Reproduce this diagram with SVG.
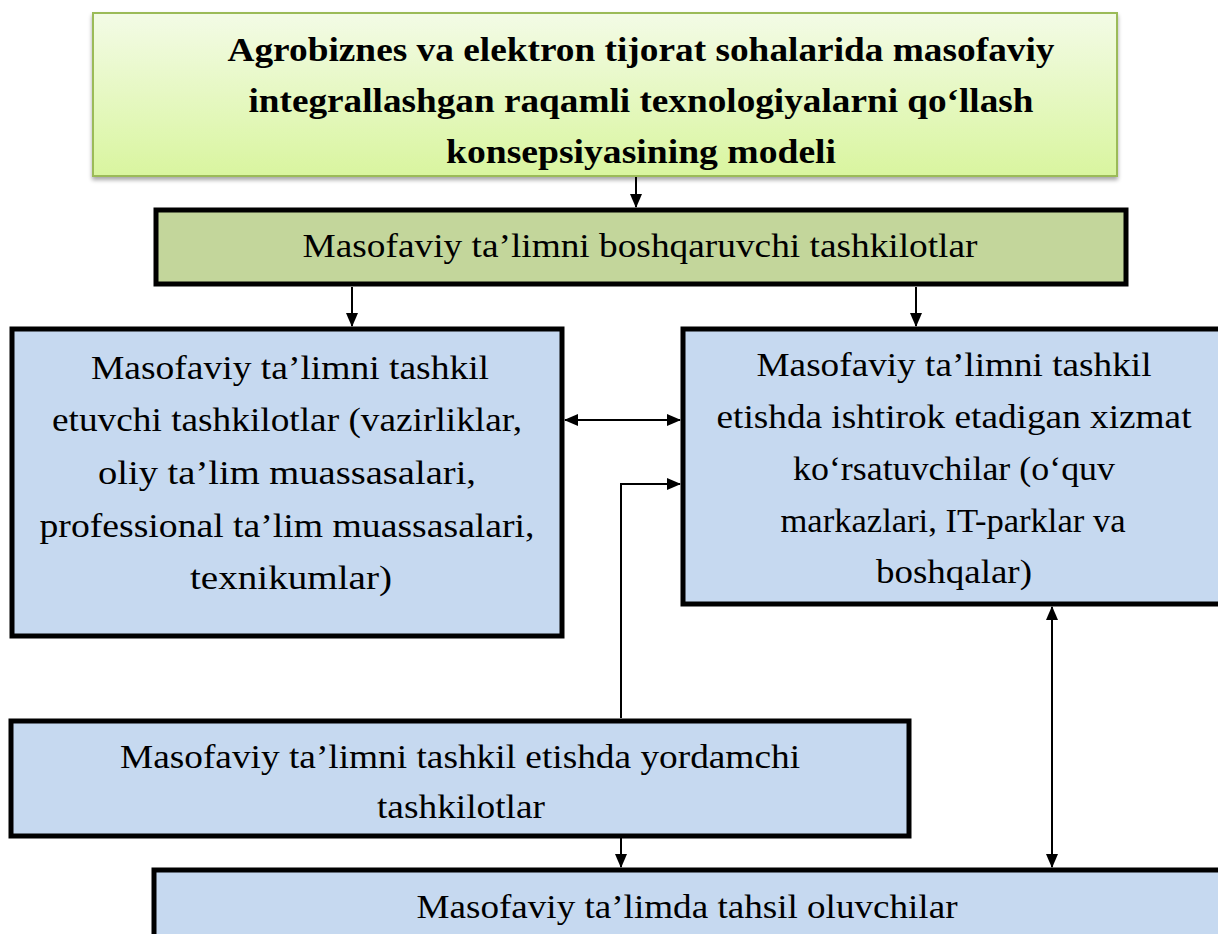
<svg xmlns="http://www.w3.org/2000/svg" width="1218" height="934" viewBox="0 0 1218 934">
<defs>
<linearGradient id="gTop" x1="0" y1="0" x2="0" y2="1">
<stop offset="0" stop-color="#f3fbe6"/>
<stop offset="1" stop-color="#d9f59f"/>
</linearGradient>
<filter id="sh" x="-5%" y="-10%" width="110%" height="130%">
<feGaussianBlur in="SourceAlpha" stdDeviation="2"/>
<feOffset dx="0" dy="3"/>
<feComponentTransfer><feFuncA type="linear" slope="0.35"/></feComponentTransfer>
<feMerge><feMergeNode/><feMergeNode in="SourceGraphic"/></feMerge>
</filter>
<marker id="ah" markerWidth="14" markerHeight="12" refX="13" refY="6" orient="auto-start-reverse" markerUnits="userSpaceOnUse">
<path d="M0,0 L14,6 L0,12 Z" fill="#000"/>
</marker>
</defs>
<style>
text{font-family:"Liberation Serif","Times New Roman",serif;fill:#000;text-anchor:middle}
.t{font-size:34px;font-weight:bold}
.n{font-size:34px}
.box{stroke:#000;stroke-width:5}
.blue{fill:#c6d9f0}
.con{stroke:#000;stroke-width:2;fill:none}
</style>
<g id="top">
<rect x="93" y="13" width="1024" height="163" fill="url(#gTop)" stroke="#9bbb59" stroke-width="2" filter="url(#sh)"/>
<text class="t" x="641" y="61" textLength="827" lengthAdjust="spacingAndGlyphs">Agrobiznes va elektron tijorat sohalarida masofaviy</text>
<text class="t" x="641" y="112" textLength="785" lengthAdjust="spacingAndGlyphs">integrallashgan raqamli texnologiyalarni qo‘llash</text>
<text class="t" x="641" y="163" textLength="390" lengthAdjust="spacingAndGlyphs">konsepsiyasining modeli</text>
</g>
<g id="boshqaruv">
<rect class="box" x="156" y="210" width="970" height="74" fill="#c3d69b"/>
<text class="n" x="640" y="257" textLength="675" lengthAdjust="spacingAndGlyphs">Masofaviy ta’limni boshqaruvchi tashkilotlar</text>
</g>
<g id="tashkil">
<rect class="box blue" x="12" y="329" width="550" height="307"/>
<text class="n" x="290" y="379" textLength="398" lengthAdjust="spacingAndGlyphs">Masofaviy ta’limni tashkil</text>
<text class="n" x="287" y="431" textLength="470" lengthAdjust="spacingAndGlyphs">etuvchi tashkilotlar (vazirliklar,</text>
<text class="n" x="287" y="484" textLength="378" lengthAdjust="spacingAndGlyphs">oliy ta’lim muassasalari,</text>
<text class="n" x="287" y="537" textLength="495" lengthAdjust="spacingAndGlyphs">professional ta’lim muassasalari,</text>
<text class="n" x="291" y="589" textLength="202" lengthAdjust="spacingAndGlyphs">texnikumlar)</text>
</g>
<g id="xizmat">
<rect class="box blue" x="683" y="329" width="545" height="275"/>
<text class="n" x="954" y="376" textLength="395" lengthAdjust="spacingAndGlyphs">Masofaviy ta’limni tashkil</text>
<text class="n" x="954" y="428" textLength="475" lengthAdjust="spacingAndGlyphs">etishda ishtirok etadigan xizmat</text>
<text class="n" x="954" y="480" textLength="322" lengthAdjust="spacingAndGlyphs">ko‘rsatuvchilar (o‘quv</text>
<text class="n" x="953" y="532" textLength="345" lengthAdjust="spacingAndGlyphs">markazlari, IT-parklar va</text>
<text class="n" x="954" y="583" textLength="156" lengthAdjust="spacingAndGlyphs">boshqalar)</text>
</g>
<g id="yordamchi">
<rect class="box blue" x="11" y="721" width="898" height="115"/>
<text class="n" x="460" y="768" textLength="680" lengthAdjust="spacingAndGlyphs">Masofaviy ta’limni tashkil etishda yordamchi</text>
<text class="n" x="461" y="818" textLength="168" lengthAdjust="spacingAndGlyphs">tashkilotlar</text>
</g>
<g id="oluvchilar">
<rect class="box blue" x="154" y="870" width="1074" height="80"/>
<text class="n" x="687" y="918" textLength="541" lengthAdjust="spacingAndGlyphs">Masofaviy ta’limda tahsil oluvchilar</text>
</g>
<g id="connectors">
<line class="con" x1="636" y1="177" x2="636" y2="207" marker-end="url(#ah)"/>
<line class="con" x1="352" y1="287" x2="352" y2="326" marker-end="url(#ah)"/>
<line class="con" x1="916" y1="287" x2="916" y2="326" marker-end="url(#ah)"/>
<line class="con" x1="565" y1="420" x2="680" y2="420" marker-start="url(#ah)" marker-end="url(#ah)"/>
<polyline class="con" points="621,718 621,484 680,484" marker-end="url(#ah)"/>
<line class="con" x1="621" y1="838" x2="621" y2="867" marker-end="url(#ah)"/>
<line class="con" x1="1052" y1="607" x2="1052" y2="867" marker-start="url(#ah)" marker-end="url(#ah)"/>
</g>
</svg>
